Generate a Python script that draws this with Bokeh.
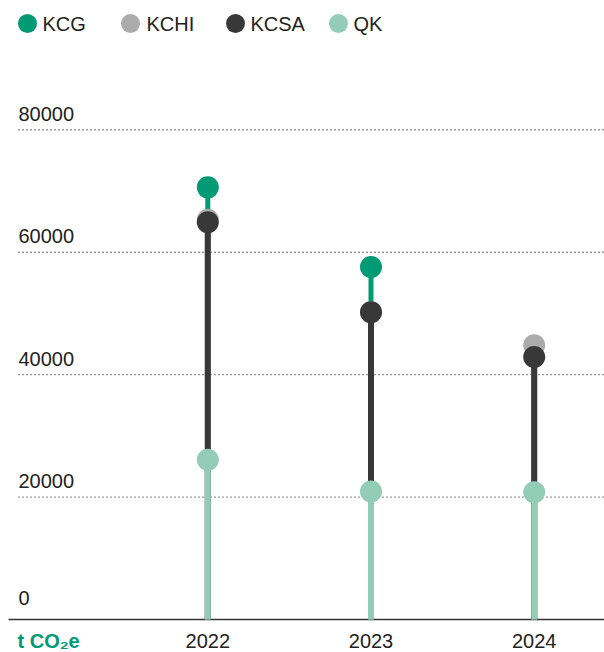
from bokeh.plotting import figure
from bokeh.models import Range1d, ColumnDataSource
from bokeh.core.properties import value
from bokeh.embed import file_html
from bokeh.resources import INLINE

# ---------------- data ----------------
years = ["2022", "2023", "2024"]
series_names = ["KCG", "KCHI", "KCSA", "QK"]
kcg = [70600, 57600, None]
kchi = [65300, 50200, 44800]
kcsa = [64900, 50200, 42900]
qk = [26100, 20900, 20800]
y_ticks = [0, 20000, 40000, 60000, 80000]
unit_label = "t CO\u2082e"

# ---------------- styles ----------------
colors = {"KCG": "#009A74", "KCHI": "#ABABAB", "KCSA": "#383838", "QK": "#93CDB7"}
stem_w = {"KCG": 5, "KCHI": 6, "KCSA": 6, "QK": 6}
FONT = value("Liberation Sans")
TXT = "#222222"

W, H = 604, 652
Y0_PX = 619.0          # pixel row of value 0
PX_PER_K = 6.121       # pixels per 1000 units
X0_PX = 207.3          # pixel column of first category
X_STEP = 163.2         # pixels between categories

x_start = -X0_PX / X_STEP
x_end = x_start + W / X_STEP
y_end = Y0_PX / PX_PER_K * 1000
y_start = y_end - H / PX_PER_K * 1000


def xd(px):
    return x_start + px / X_STEP


def yd(py):
    return y_end - py / PX_PER_K * 1000


p = figure(width=W, height=H, output_backend="svg", toolbar_location=None,
           x_range=Range1d(x_start, x_end), y_range=Range1d(y_start, y_end),
           x_axis_location=None, y_axis_location=None, min_border=0,
           outline_line_color=None, background_fill_color="white",
           border_fill_color="white")
p.grid.visible = False

# dotted gridlines (non-zero ticks)
grid_vals = [t for t in y_ticks if t != 0]
p.segment(x0=[xd(18)] * len(grid_vals), x1=[xd(604)] * len(grid_vals),
          y0=grid_vals, y1=grid_vals, line_color="#333333", line_width=1.4,
          line_dash="1 3")

# zero baseline
p.segment(x0=[xd(8)], x1=[xd(604)], y0=[0], y1=[0], line_color="#333333", line_width=1.5)

# y tick labels
tick_offsets = [-22 if t == 0 else -16 for t in y_ticks]
p.text(x=[xd(18)] * len(y_ticks), y=y_ticks, text=[str(t) for t in y_ticks],
       text_font=FONT, text_font_size="20px", text_color=TXT,
       text_align="left", text_baseline="alphabetic", y_offset=tick_offsets)

# lollipops
xs = list(range(len(years)))
data = {"KCG": kcg, "KCHI": kchi, "KCSA": kcsa, "QK": qk}
for name in series_names:
    vals = [float("nan") if v is None else v for v in data[name]]
    src = ColumnDataSource(dict(x=xs, y0=[0] * len(xs), y1=vals))
    p.segment(x0="x", x1="x", y0="y0", y1="y1", source=src,
              line_color=colors[name], line_width=stem_w[name])
    p.scatter(x="x", y="y1", source=src, size=22, marker="circle",
              fill_color=colors[name], line_color=None)

# year labels
p.text(x=xs, y=[0] * len(xs), text=years, text_font=FONT, text_font_size="20px",
       text_color=TXT, text_align="center", text_baseline="alphabetic", y_offset=21)

# unit label
p.text(x=[xd(17)], y=[0], text=[unit_label], text_font=FONT, text_font_size="20px",
       text_font_style="bold", text_color=colors["KCG"], text_align="left",
       text_baseline="alphabetic", y_offset=21)

# legend (manual)
leg_dot_px = [27, 130, 235, 338]
leg_txt_px = [42, 146, 250, 353]
leg_y = yd(23)
p.scatter(x=[xd(v) for v in leg_dot_px], y=[leg_y] * 4, size=19, marker="circle",
          fill_color=[colors[n] for n in series_names], line_color=None)
p.text(x=[xd(v) for v in leg_txt_px], y=[leg_y] * 4, text=series_names,
       text_font=FONT, text_font_size="20px", text_color=TXT,
       text_align="left", text_baseline="middle")

open("out.html", "w").write(file_html(p, INLINE))
